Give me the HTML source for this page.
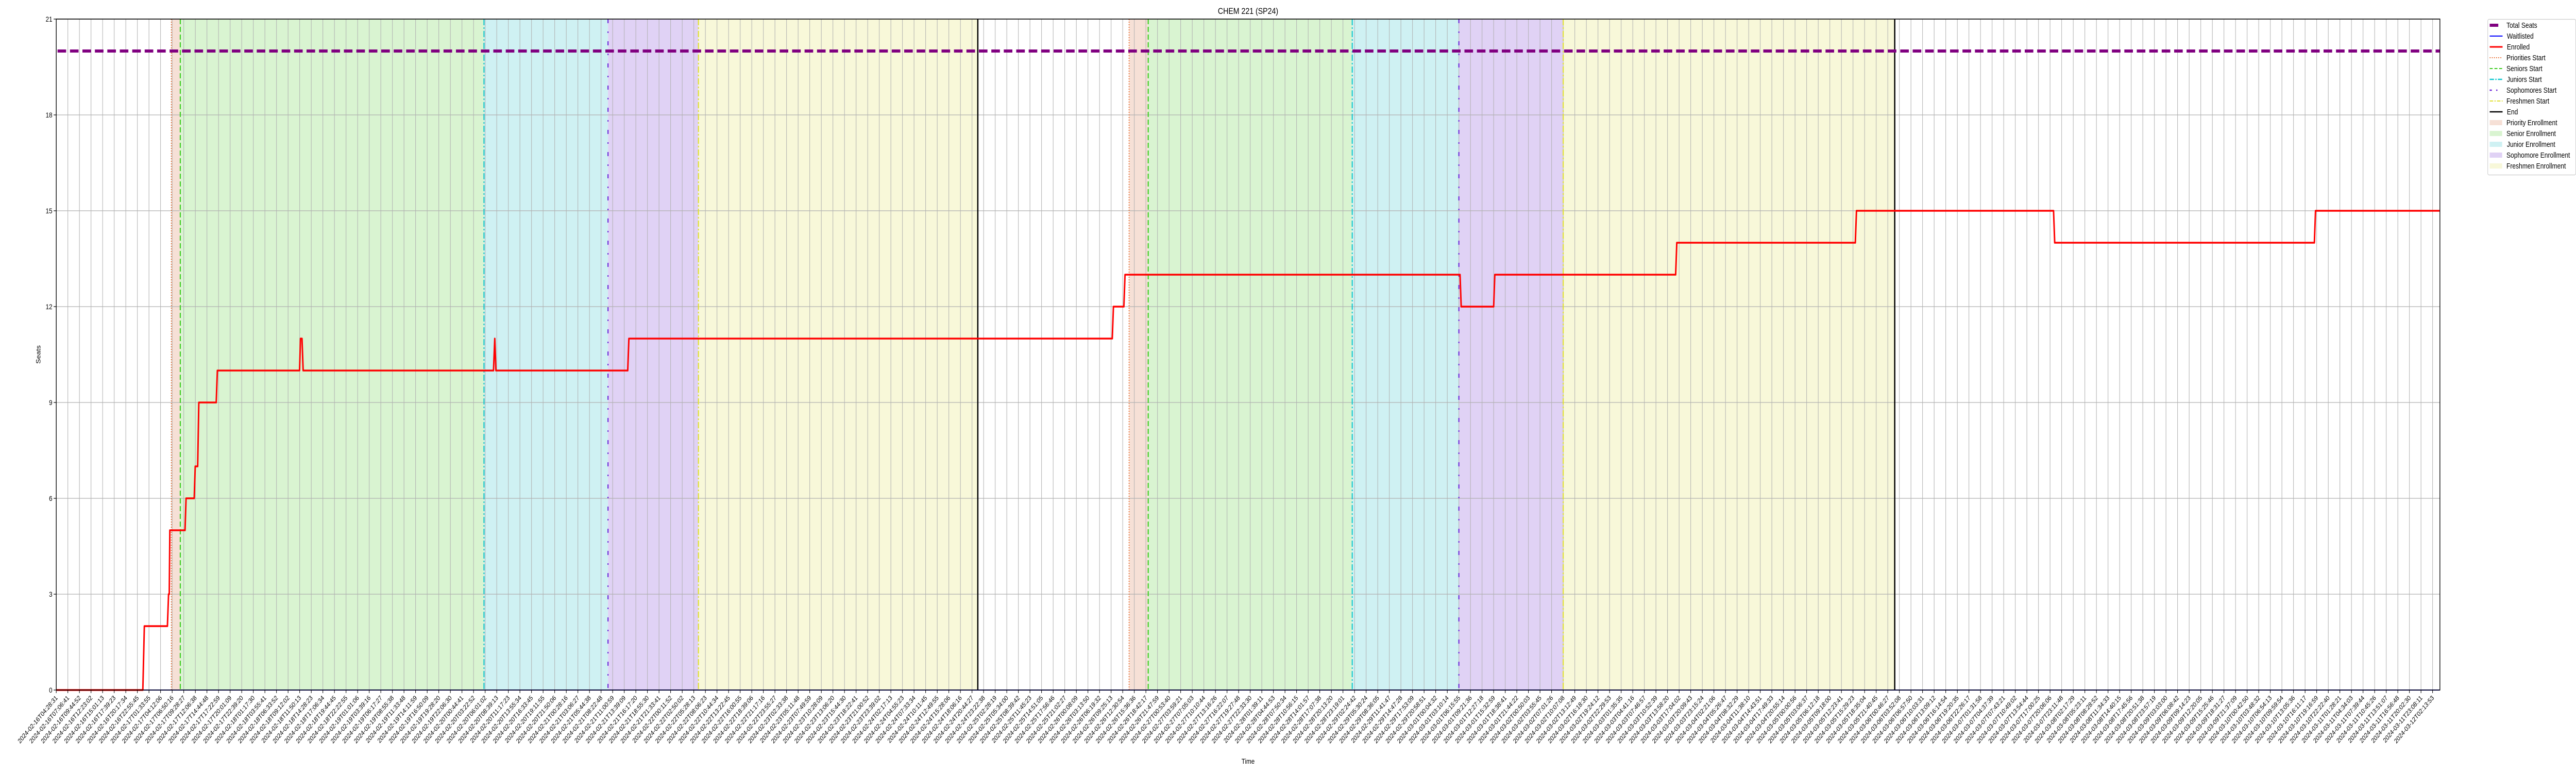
<!DOCTYPE html>
<html><head><meta charset="utf-8"><style>
html,body{margin:0;padding:0;background:#fff;width:100vw;height:100vh;overflow:hidden;}
svg{display:block;position:absolute;left:0;top:0;width:100vw;height:100vh;font-family:"Liberation Sans","DejaVu Sans",sans-serif;}
</style></head><body>
<svg id="chart" viewBox="0 0 6000 1500" preserveAspectRatio="none" xmlns="http://www.w3.org/2000/svg">
<rect x="0" y="0" width="6000" height="1500" fill="#fff"/>
<g id="spans"></g><g id="grid"></g><g id="vlines"></g><g id="series"></g><g id="axes"></g>
<text x="2907" y="27" text-anchor="middle" font-size="17">CHEM 221 (SP24)</text>
<text x="2907" y="1482" text-anchor="middle" font-size="14">Time</text>
<text x="0" y="0" transform="translate(94,688) rotate(-90)" text-anchor="middle" font-size="14">Seats</text>
<g font-size="14.5">
<rect x="5794.5" y="37.5" width="205" height="302" rx="3" fill="#fff" stroke="#ccc" stroke-width="1.2"/>
<g><line x1="5799" x2="5819" y1="49" y2="49" stroke="#800080" stroke-width="6"/><text x="5838" y="54">Total Seats</text></g>
<g><line x1="5799" x2="5829" y1="70" y2="70" stroke="#0000ff" stroke-width="2"/><text x="5839" y="75">Waitlisted</text></g>
<g><line x1="5799" x2="5829" y1="91" y2="91" stroke="#ff0000" stroke-width="3"/><text x="5839" y="96">Enrolled</text></g>
<g><line x1="5799" x2="5829" y1="112" y2="112" stroke="#e8692b" stroke-width="2" stroke-dasharray="2,3"/><text x="5838" y="117">Priorities Start</text></g>
<g><line x1="5799" x2="5829" y1="133" y2="133" stroke="#3ccc1e" stroke-width="2" stroke-dasharray="7,4"/><text x="5838" y="138">Seniors Start</text></g>
<g><line x1="5799" x2="5829" y1="154" y2="154" stroke="#10c8d0" stroke-width="2.5" stroke-dasharray="10,3,3,3"/><text x="5839" y="159">Juniors Start</text></g>
<g><line x1="5799" x2="5829" y1="175" y2="175" stroke="#6a22d8" stroke-width="2.5" stroke-dasharray="5,10,3,20"/><text x="5838" y="180">Sophomores Start</text></g>
<g><line x1="5799" x2="5829" y1="196" y2="196" stroke="#e0e030" stroke-width="2" stroke-dasharray="8,3,3,3"/><text x="5838" y="201">Freshmen Start</text></g>
<g><line x1="5799" x2="5829" y1="217" y2="217" stroke="#000" stroke-width="2.5"/><text x="5839" y="222">End</text></g>
<g><rect x="5799" y="233" width="29" height="10" fill="#f6e0d6"/><text x="5838" y="243">Priority Enrollment</text></g>
<g><rect x="5799" y="254" width="29" height="10" fill="#d9f4d1"/><text x="5838" y="264">Senior Enrollment</text></g>
<g><rect x="5799" y="275" width="29" height="10" fill="#cff1f3"/><text x="5839" y="285">Junior Enrollment</text></g>
<g><rect x="5799" y="296" width="29" height="10" fill="#e0d2f5"/><text x="5838" y="306">Sophomore Enrollment</text></g>
<g><rect x="5799" y="317" width="29" height="10" fill="#f8f8d9"/><text x="5838" y="327">Freshmen Enrollment</text></g>
</g>
</svg>
<script>
// ---- data ----
const tickAnchorIdx = [0, 80, 205];
const tickAnchorTime = ["2024-02-16T04:28:31", "2024-02-24T23:22:38", "2024-03-12T02:13:53"];
const yTicks = [0, 3, 6, 9, 12, 15, 18, 21];
const totalSeats = 20;
const enrolledX = [0, 7.47, 7.6, 9.59, 9.69, 9.75, 9.8, 11.11, 11.2, 11.9, 11.99, 12.2, 12.3, 13.8, 13.9, 20.99, 21.07, 21.2, 21.3, 37.72, 37.83, 37.93, 49.3, 49.4, 91.1, 91.2, 92.1, 92.2, 121.1, 121.2, 124.0, 124.1, 139.7, 139.8, 155.2, 155.3, 172.3, 172.4, 194.8, 194.9, 205.6];
const enrolledY = [0, 0, 2, 2, 3, 3, 5, 5, 6, 6, 7, 7, 9, 9, 10, 10, 11, 11, 10, 10, 11, 10, 10, 11, 11, 12, 12, 13, 13, 12, 12, 13, 13, 14, 14, 15, 15, 14, 14, 15, 15];
const waitlistX = [0, 205.6];
const waitlistY = [0, 0];
const priorityStarts = [9.93, 92.55];
const seniorStarts = [10.7, 94.2];
const juniorStarts = [36.9, 111.8];
const sophStarts = [47.6, 121.0];
const freshStarts = [55.4, 130.0];
const endTimes = [79.5, 158.6];

// ---- layout ----
const L = 131, R = 5683, T = 37, B = 1339, NT = 206, STEP = 27;
const X = i => L + i * STEP;
const Y = v => B - (v / 21) * (B - T);
const NS = "http://www.w3.org/2000/svg";
function mk(tag, attrs, parent) { const e = document.createElementNS(NS, tag); for (const k in attrs) e.setAttribute(k, attrs[k]); parent.appendChild(e); return e; }
const pad = n => String(n).padStart(2, "0");
function fmt(ms) { const d = new Date(ms); return d.getUTCFullYear() + "-" + pad(d.getUTCMonth() + 1) + "-" + pad(d.getUTCDate()) + "T" + pad(d.getUTCHours()) + ":" + pad(d.getUTCMinutes()) + ":" + pad(d.getUTCSeconds()); }
function tickLabel(i) {
  let k = 0; while (k < tickAnchorIdx.length - 2 && i > tickAnchorIdx[k + 1]) k++;
  const a = Date.parse(tickAnchorTime[k] + "Z"), b = Date.parse(tickAnchorTime[k + 1] + "Z");
  const f = (i - tickAnchorIdx[k]) / (tickAnchorIdx[k + 1] - tickAnchorIdx[k]);
  return fmt(a + (b - a) * f);
}

const spans = document.getElementById("spans");
function span(starts, ends, fill, name) {
  for (let j = 0; j < starts.length; j++) {
    const r = mk("rect", { x: X(starts[j]), y: T, width: X(ends[j]) - X(starts[j]), height: B - T, fill: fill }, spans);
    
    
  }
}
span(priorityStarts, seniorStarts, "#f6e0d6", "priority-enrollment-span");
span(seniorStarts, juniorStarts, "#d9f4d1", "senior-enrollment-span");
span(juniorStarts, sophStarts, "#cff1f3", "junior-enrollment-span");
span(sophStarts, freshStarts, "#e0d2f5", "sophomore-enrollment-span");
span(freshStarts, endTimes, "#f8f8d9", "freshmen-enrollment-span");

const grid = document.getElementById("grid");
for (let i = 0; i < NT; i++) mk("line", { x1: X(i), x2: X(i), y1: T, y2: B, stroke: "#b0b0b0", "stroke-width": 1.2 }, grid);
yTicks.forEach(v => mk("line", { x1: L, x2: R, y1: Y(v), y2: Y(v), stroke: "#b0b0b0", "stroke-width": 1.2 }, grid));

const vl = document.getElementById("vlines");
function vline(arr, color, dash, w, name) {
  arr.forEach(v => {
    const l = mk("line", { x1: X(v), x2: X(v), y1: T, y2: B, stroke: color, "stroke-width": w }, vl);
    if (dash) l.setAttribute("stroke-dasharray", dash);
    
    
  });
}
vline(priorityStarts, "#e8692b", "2,3", 2, "priorities-start-line");
vline(seniorStarts, "#3ccc1e", "10,5", 2.5, "seniors-start-line");
vline(juniorStarts, "#10c8d0", "12,4,3,4", 2.5, "juniors-start-line");
vline(sophStarts, "#6a22d8", "8,16,3,16", 2.5, "sophomores-start-line");
vline(freshStarts, "#e0e030", "12,4,3,4", 2.5, "freshmen-start-line");
vline(endTimes, "#000", null, 3, "end-line");

const ser = document.getElementById("series");
const ts = mk("line", { x1: L, x2: R, y1: Y(totalSeats), y2: Y(totalSeats), stroke: "#800080", "stroke-width": 6, "stroke-dasharray": "20,9", "stroke-dashoffset": "-3" }, ser);


const wl = mk("polyline", { points: waitlistX.map((x, i) => X(x) + "," + Y(waitlistY[i])).join(" "), fill: "none", stroke: "#0000ff", "stroke-width": 2 }, ser);


const en = mk("polyline", { points: enrolledX.map((x, i) => X(x) + "," + Y(enrolledY[i])).join(" "), fill: "none", stroke: "#ff0000", "stroke-width": 3.5, "stroke-linejoin": "round" }, ser);



const ax = document.getElementById("axes");
mk("rect", { x: L, y: T, width: R - L, height: B - T, fill: "none", stroke: "#000", "stroke-width": 1.6 }, ax);
yTicks.forEach(v => {
  mk("line", { x1: L - 6, x2: L, y1: Y(v), y2: Y(v), stroke: "#000", "stroke-width": 1.2 }, ax);
  const t = mk("text", { x: L - 9, y: Y(v) + 5, "text-anchor": "end", "font-size": 14, fill: "#000" }, ax);
  t.textContent = v;
  
  
});
for (let i = 0; i < NT; i++) {
  mk("line", { x1: X(i), x2: X(i), y1: B, y2: B + 6, stroke: "#000", "stroke-width": 1.2 }, ax);
  const t = mk("text", { x: 0, y: 0, "text-anchor": "end", "font-size": 13, fill: "#000", transform: "translate(" + (X(i) + 4) + "," + (B + 16) + ") rotate(-45)" }, ax);
  t.textContent = tickLabel(i);
  
  
}
</script>
</body></html>
